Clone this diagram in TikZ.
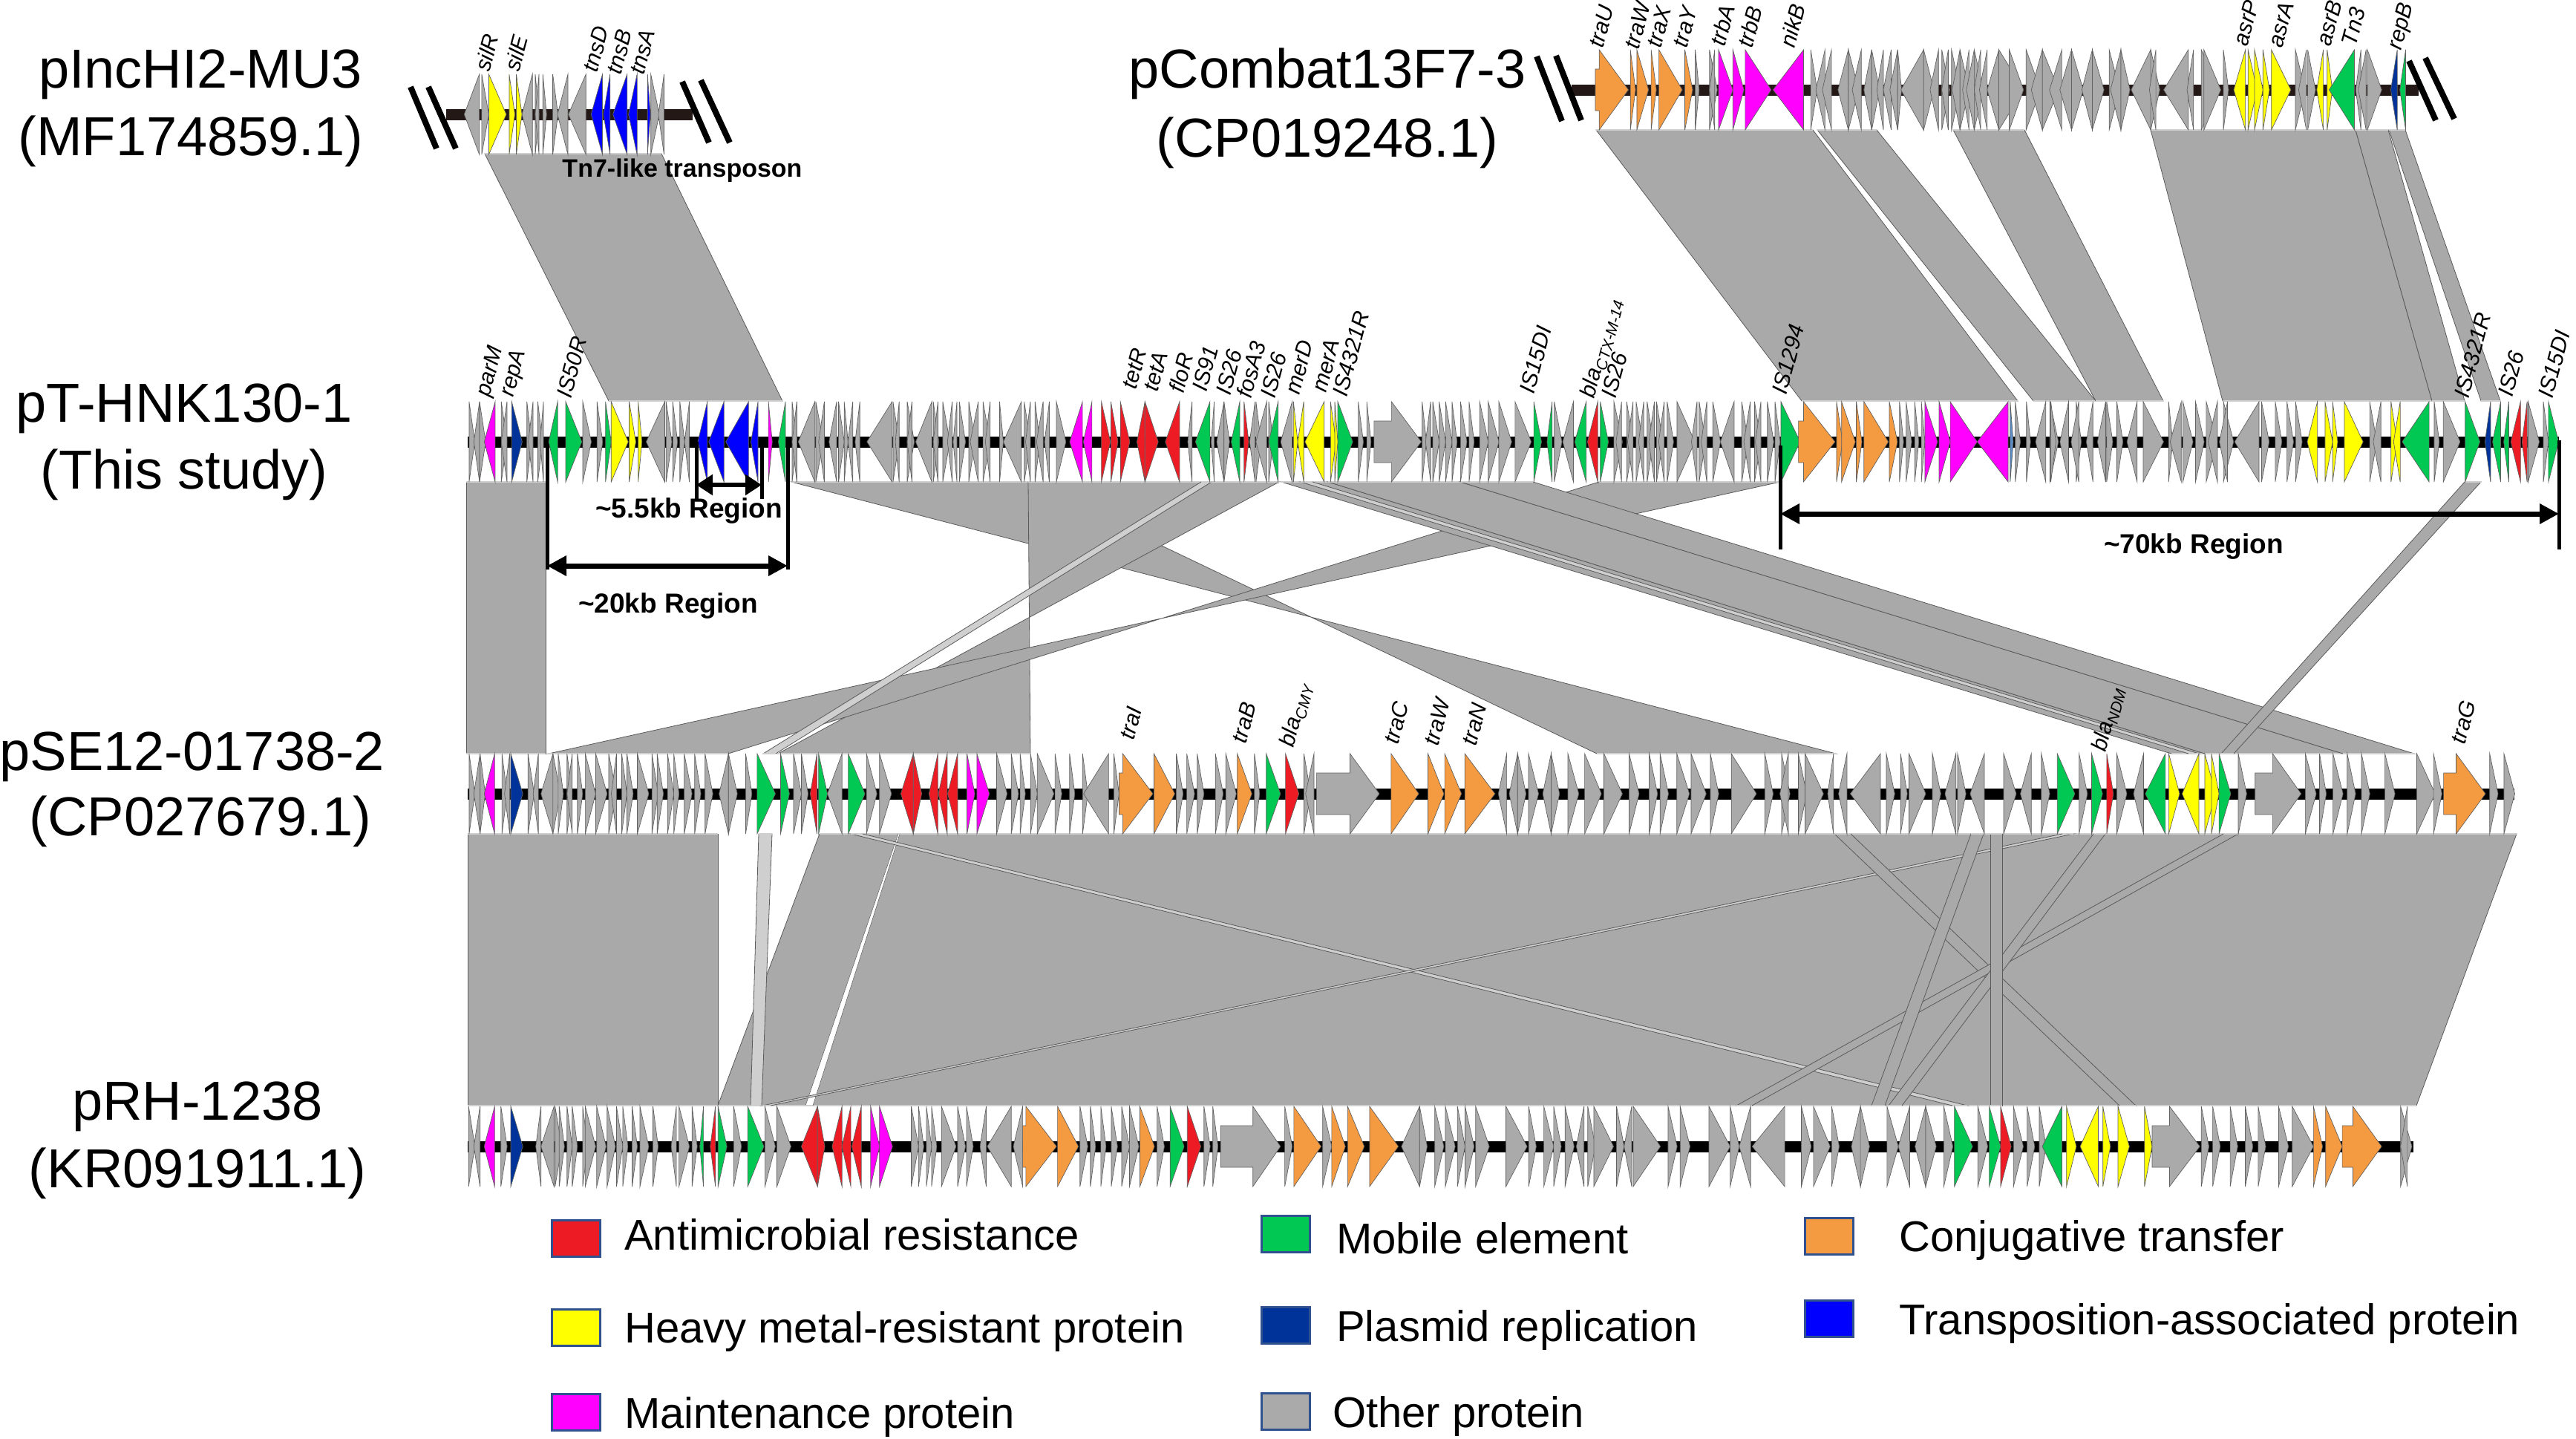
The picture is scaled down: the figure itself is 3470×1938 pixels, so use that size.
\documentclass[tikz,border=0pt]{standalone}
\usepackage{fontspec}
\setmainfont{Liberation Sans}
\usetikzlibrary{arrows.meta}
\definecolor{genegrey}{HTML}{AAAAAA}
\definecolor{genered}{HTML}{ED1C24}
\definecolor{geneyellow}{HTML}{FFFF00}
\definecolor{genemagenta}{HTML}{FF00FF}
\definecolor{genegreen}{HTML}{00C853}
\definecolor{geneorange}{HTML}{F49A40}
\definecolor{genenavy}{HTML}{003399}
\definecolor{geneblue}{HTML}{0000FF}
\definecolor{genesteel}{HTML}{5B8DC8}
\definecolor{ribbongrey}{HTML}{A9A9A9}
\definecolor{ribbonlight}{HTML}{CFCFCF}
\definecolor{seam}{HTML}{5A5A5A}
\definecolor{keyedge}{HTML}{2F528F}
\definecolor{darkbone}{HTML}{231815}
\tikzset{
  gene/.style={draw=black!62,line width=0.7pt,line join=miter},
  backbone/.style={line width=15pt,black},
  breakmark/.style={line width=8pt,black},
  ribbon/.style={fill=ribbongrey,draw=seam,line width=0.8pt},
  paleribbon/.style={fill=ribbonlight,draw=seam,line width=0.8pt},
  gapribbon/.style={fill=white,draw=seam,line width=0.5pt},
  genelabel/.style={font=\fontsize{30}{32}\selectfont\itshape,rotate=75,anchor=mid west,inner sep=0pt},
  tracklabel/.style={font=\fontsize{74}{80}\selectfont,inner sep=0pt},
  regionlabel/.style={font=\fontsize{37}{40}\selectfont\bfseries,inner sep=0pt},
  regionedge/.style={line width=5pt,black},
  regionspan/.style={line width=7pt,black,{Triangle[length=26pt,width=26pt]}-{Triangle[length=26pt,width=26pt]}},
  keybox/.style={draw=keyedge,line width=3.5pt,minimum width=65pt,minimum height=49pt,inner sep=0pt},
  keylabel/.style={font=\fontsize{58}{60}\selectfont,anchor=base west,inner sep=0pt}
}
\newcommand{\genes}[2]{\foreach \a/\b in {#2} {\filldraw[gene,fill=#1] (\a,-54) -- (\b,0) -- (\a,54) -- cycle;}}
\newcommand{\blockgene}[4]{\filldraw[gene,fill=#4] (#1,-28) -- (#2,-28) -- (#2,-54) -- (#3,0) -- (#2,54) -- (#2,28) -- (#1,28) -- cycle;}
\newcommand{\linkband}[7][ribbon]{\filldraw[#1] (#2,#6) -- (#3,#6) -- (#4,#7) -- (#5,#7) -- cycle;
  \draw[ribbonlight,line width=2.5pt] (#2,#6) -- (#3,#6) (#4,#7) -- (#5,#7);}
\begin{document}
\begin{tikzpicture}[x=1pt,y=-1pt]
\useasboundingbox (0,0) rectangle (3470,1938);
% links between pIncHI2 / pCombat and pT-HNK130
\linkband{653}{891}{1054}{820}{207}{540}
\linkband{2150}{2442}{2718}{2427}{175}{540}
\linkband{2448}{2528}{2823}{2739}{175}{540}
\linkband{2631}{2727}{2914}{2823}{175}{540}
\linkband{2897}{3173}{3276}{2994}{175}{540}
\linkband{3173}{3217}{3320}{3276}{175}{540}
\linkband{3218}{3240}{3368}{3342}{175}{540}
% links between pT-HNK130 and pSE12
\linkband{628}{735}{735}{628}{649}{1015}
\linkband{1066}{1385}{2151}{2473}{649}{1015}
\linkband{1385}{1723}{1048}{1388}{649}{1015}
\linkband{2154}{2398}{739}{981}{649}{1015}
\linkband[paleribbon]{1618}{1632}{1045}{1028}{649}{1015}
\linkband{1726}{1789}{2970}{2925}{649}{1015}
\linkband[paleribbon]{1752}{1768}{2962}{2948}{649}{1015}
\linkband{1789}{1967}{3156}{2970}{649}{1015}
\linkband{1967}{2065}{3252}{3156}{649}{1015}
\linkband{3320}{3342}{3009}{2992}{649}{1015}
% links between pSE12 and pRH
\linkband{630}{967}{967}{630}{1123}{1489}
\linkband{1104}{3390}{3255}{967}{1123}{1489}
\linkband[paleribbon]{1022}{1040}{1026}{1011}{1123}{1489}
\linkband[gapribbon]{1210}{1212}{1095}{1085}{1123}{1489}
\linkband[paleribbon]{1146}{1162}{2650}{2630}{1123}{1489}
\linkband[paleribbon]{2778}{2793}{1038}{1027}{1123}{1489}
\linkband{2471}{2493}{2877}{2855}{1123}{1489}
\linkband{2995}{3015}{2360}{2339}{1123}{1489}
\linkband{2820}{2836}{2562}{2544}{1123}{1489}
\linkband{2655}{2672}{2539}{2521}{1123}{1489}
\linkband{2681}{2697}{2697}{2681}{1123}{1489}
% backbones
\draw[backbone,draw=darkbone] (601,154) -- (933,154);
\draw[backbone,draw=darkbone] (2117,121) -- (3258,121);
\draw[backbone] (630,595) -- (3447,595);
\draw[backbone] (630,1069) -- (3387,1069);
\draw[backbone] (630,1544) -- (3251,1544);
\draw[breakmark] (553,117) -- (588,200);
\draw[breakmark] (577,117) -- (614,200);
\draw[breakmark] (919,110) -- (955,192);
\draw[breakmark] (944,108) -- (983,192);
\draw[breakmark] (2070,76) -- (2104,163);
\draw[breakmark] (2096,75) -- (2130,162);
\draw[breakmark] (3245,82) -- (3281,162);
\draw[breakmark] (3267,78) -- (3306,160);
% pIncHI2-MU3
\begin{scope}[shift={(550,154)},x=.638pt]
\genes{genegrey}{150/118,155/170,262/240,268/276,276/268,284/292,305/316,337/315,375/338,512/530,540/528}
\genes{geneyellow}{170/207,213/225,228/240}
\genes{geneblue}{410/386,426/412,462/432,483/465,505/511}
\end{scope}
% pCombat13F7-3
\begin{scope}[shift={(2100,121)},x=.874pt]
\genes{genegrey}{210/216,232/244,240/232,388/398,410/396,420/406,446/430,446/462,466/452,482/470,482/494,500/490,512/500,522/510,522/528,562/527,562/578,585/572,590/602,600/590,605/618,618/606,618/632,632/622,640/628,640/654,650/640,660/648,678/660,678/716,694/716,720/742,745/728,745/770,775/756,790/772,790/808,822/806,822/840,848/864,866/850,866/880,912/882,912/926,920/910,970/932,978/968,990/1018,994/1020,1024/1032,1135/1150,1152/1140,1154/1166,1236/1228,1244/1232,1246/1268}
\blockgene{56}{62}{107}{geneorange}
\genes{geneorange}{110/118,120/138,142/150,154/190,194/206}
\genes{genemagenta}{246/268,268/285,287/327,377/330}
\genes{geneyellow}{1058/1040,1062/1076,1072/1085,1085/1095,1098/1128,1178/1168,1184/1192}
\genes{genegreen}{1226/1187,1305/1296}
\genes{genenavy}{1292/1282}
\end{scope}
% pT-HNK130-1 left part
\begin{scope}[shift={(600,595)},x=.638pt]
\genes{genegrey}{50/62,72/60,72/85,118/130,130/118,172/182,185/175,195/205,207/200,290/308,320/332,463/424,466/478,480/490,495/505,515/505,732/742,742/732,780/745,782/798,800/788,826/810,830/842,842/850,860/850,875/865,943/890,945/958,958/950,975/990,985/975,1027/993,1030/1042,1040/1030,1050/1065,1070/1060,1080/1072,1085/1098,1105/1118,1125/1108,1135/1150,1150/1140,1170/1178,1216/1178,1222/1235,1235/1225,1245/1255,1262/1248,1275/1265,1290/1310}
\genes{genemagenta}{105/82,1345/1318,1365/1347,682/690}
\genes{genenavy}{140/162}
\genes{genegreen}{237/218,254/288,338/350,718/703}
\genes{geneyellow}{350/386,388/402,407/415}
\genes{geneblue}{553/533,588/556,640/592,660/645}
\genes{genered}{1385/1404,1405/1420,1425/1445,1477/1460,1477/1505,1550/1520}
\end{scope}
% pT-HNK130-1 middle part
\begin{scope}[shift={(1600,595)},x=.574pt]
\genes{genegrey}{10/0,62/55,85/68,85/98,158/145,160/172,185/160,190/200,245/218,400/412,420/430,550/560,570/558,575/590,590/605,605/620,620/632,640/655,660/672,685/705,705/730,730/760,768/806,860/878,905/880,1000/1020,1018/1005,1030/1045,1045/1032,1052/1068,1070/1058,1078/1092,1095/1082,1100/1115,1118/1105,1125/1140,1148/1190,1195/1182,1200/1215,1218/1205,1232/1250,1282/1250,1300/1315,1320/1305,1330/1345,1345/1332,1360/1375,1378/1390}
\genes{genegreen}{52/18,122/102,212/190,352/387,812/830,855/843,935/908,968/987,1392/1437}
\genes{genered}{132/143,962/938}
\genes{geneyellow}{248/258,272/258,320/275,335/348,345/352}
\blockgene{437}{478}{548}{genegrey}
\end{scope}
% pT-HNK130-1 right part
\begin{scope}[shift={(2400,595)},x=.684pt]
\genes{genegrey}{232/240,245/256,262/270,275/282,460/470,482/490,520/500,528/545,530/540,565/548,580/590,585/570,613/600,638/622,640/652,660/672,700/680,712/752,762/770,787/765,790/810,815/832,836/858,858/840,870/890,878/862,940/892,945/960,972/985,995/1008,1012/1025,1158/1172,1180/1165,1285/1295,1303/1336,1470/1492,1500/1510}
\blockgene{33}{43}{105}{geneorange}
\genes{geneorange}{108/120,118/145,147/158,162/210,212/228}
\genes{genemagenta}{282/307,310/332,332/385,446/385}
\genes{genesteel}{450/456}
\genes{geneyellow}{1055/1035,1070/1085,1085/1095,1108/1145,1200/1212,1218/1205}
\genes{genegreen}{1275/1222,1346/1375,1416/1400,1432/1422,1510/1530}
\genes{genenavy}{1396/1385}
\genes{genered}{1455/1436,1468/1458}
\end{scope}
% pSE12-01738-2 left part
\begin{scope}[shift={(620,1069)},x=.7015pt]
\genes{genegrey}{17/28,38/26,38/48,80/90,95/85,130/142,150/140,178/155,178/192,188/198,205/215,215/205,225/235,240/260,260/282,285/300,300/290,310/320,320/332,340/362,368/380,378/390,398/410,410/420,430/445,450/462,470/485,515/497,515/532,548/560,640/655,655/668,733/705,780/800,805/828,1030/1050,1058/1072,1075/1085,1095/1108,1108/1140,1142/1155,1170/1180,1195/1205,1245/1197,1255/1265,1375/1388,1395/1410,1415/1428,1450/1465,1470/1490,1525/1535}
\genes{genemagenta}{66/46,973/988,992/1016}
\genes{genenavy}{97/120}
\genes{genegreen}{570/605,615/632,688/705,745/777}
\genes{genered}{685/672,870/846,870/886,917/900,935/918,955/936}
\blockgene{1265}{1272}{1330}{geneorange}
\genes{geneorange}{1332/1372,1492/1520}
\end{scope}
% pSE12-01738-2 right part
\begin{scope}[shift={(1700,1069)},x=1.1288pt]
\genes{genegrey}{50/58,62/52,292/282,305/295,305/315,318/330,345/355,345/335,365/378,385/405,408/430,438/450,462/472,475/485,495/510,512/530,535/545,560/590,600/610,620/630,628/618,640/650,648/670,682/675,698/688,738/702,745/755,762/770,772/792,800/810,828/815,830/840,862/845,885/900,918/905,930/940,975/985,1020/1032,1052/1040,1165/1175,1245/1258,1262/1270,1278/1290,1295/1305,1312/1322,1340/1352,1378/1400,1398/1408,1465/1475,1482/1495}
\genes{genegreen}{5/22,949/970,990/1003,1078/1054,1142/1156}
\genes{genered}{28/44,1008/1016}
\blockgene{65}{105}{140}{genegrey}
\blockgene{1185}{1206}{1240}{genegrey}
\genes{geneorange}{154/187,198/217,218/238,242/278}
\genes{geneyellow}{1082/1095,1118/1098,1125/1138,1133/1142}
\blockgene{1410}{1425}{1460}{geneorange}
\end{scope}
% pRH-1238 left part
\begin{scope}[shift={(620,1544)},x=.7015pt]
\genes{genegrey}{16/28,38/26,78/90,155/145,180/155,182/195,190/200,205/215,215/225,235/245,240/260,262/280,282/298,300/312,312/322,330/340,345/362,370/380,415/405,420/440,445/455,525/540,585/605,608/635,866/880,880/890,895/905,905/915,924/952,955/970,972/985,1010/998,1058/1012,1080/1062,1190/1205,1210/1220,1230/1240,1250/1262,1270/1285,1285/1303,1338/1352,1428/1440,1445/1455}
\genes{genemagenta}{66/46,788/805,805/830}
\genes{genenavy}{97/120}
\genes{genegreen}{467/460,495/512,552/583,1363/1390}
\genes{genered}{490/480,686/655,686/700,733/714,750/733,770/752,1396/1422}
\blockgene{1080}{1086}{1145}{geneorange}
\genes{geneorange}{1147/1187,1305/1333}
\blockgene{1460}{1522}{1575}{genegrey}
\end{scope}
% pRH-1238 right part
\begin{scope}[shift={(1700,1544)},x=1.0204pt]
\genes{genegrey}{30/40,80/92,208/184,208/218,228/240,242/255,258/268,268/280,282/300,322/350,352/362,372/385,385/395,400/412,425/415,430/440,438/464,468/478,488/478,490/526,536/548,552/565,590/618,618/630,645/630,690/647,712/725,728/750,752/762,790/778,790/802,825/840,855/840,876/862,876/890,900/912,945/958,992/1005,1010/1020,1026/1035,1240/1250,1255/1265,1278/1288,1298/1308,1315/1325,1342/1355,1360/1388,1503/1518,1512/1503}
\genes{geneorange}{42/78,92/110,113/135,142/180,1388/1400,1404/1426}
\genes{genegreen}{914/938,960/975,1056/1030}
\genes{genered}{975/989}
\genes{geneyellow}{1062/1075,1104/1080,1110/1120,1130/1145,1165/1175}
\blockgene{1175}{1198}{1238}{genegrey}
\blockgene{1426}{1440}{1478}{geneorange}
\end{scope}
% gene names
\node[genelabel] (silR) at (657,97) {silR};
\node[genelabel] (silE) at (697,97) {silE};
\node[genelabel] (tnsD) at (802,98) {tnsD};
\node[genelabel] (tnsB) at (834,101) {tnsB};
\node[genelabel] (tnsA) at (865,101) {tnsA};
\node[genelabel] (traU) at (2157,65) {traU};
\node[genelabel] (traWe) at (2205,67) {traW};
\node[genelabel] (traX) at (2235,65) {traX};
\node[genelabel] (traY) at (2270,65) {traY};
\node[genelabel] (trbA) at (2321,63) {trbA};
\node[genelabel] (trbB) at (2358,65) {trbB};
\node[genelabel] (nikB) at (2415,65) {nikB};
\node[genelabel] (asrP) at (3025,63) {asrP};
\node[genelabel] (asrA) at (3072,65) {asrA};
\node[genelabel] (asrB) at (3137,63) {asrB};
\node[genelabel] (TnThree) at (3171,63) {Tn3};
\node[genelabel] (repB) at (3232,68) {repB};
\node[genelabel] (parM) at (657,535) {parM};
\node[genelabel] (repA) at (689,535) {repA};
\node[genelabel] (ISfifty) at (767,537) {IS50R};
\node[genelabel] (tetR) at (1528,525) {tetR};
\node[genelabel] (tetA) at (1557,528) {tetA};
\node[genelabel] (floR) at (1592,530) {floR};
\node[genelabel] (ISninety) at (1623,528) {IS91};
\node[genelabel] (ISa) at (1655,533) {IS26};
\node[genelabel] (fosA) at (1683,537) {fosA3};
\node[genelabel] (ISb) at (1715,537) {IS26};
\node[genelabel] (merD) at (1748,532) {merD};
\node[genelabel] (merA) at (1784,529) {merA};
\node[genelabel] (ISfoura) at (1812,535) {IS4321R};
\node[genelabel] (ISfifteena) at (2064,531) {IS15DI};
\node[genelabel] (blaCTX) at (2145,537) {bla\textsubscript{CTX-M-14}};
\node[genelabel] (ISc) at (2174,537) {IS26};
\node[genelabel] (IStwelve) at (2404,532) {IS1294};
\node[genelabel] (ISfourb) at (3323,537) {IS4321R};
\node[genelabel] (ISd) at (3382,535) {IS26};
\node[genelabel] (ISfifteenb) at (3436,537) {IS15DI};
\node[genelabel] (traI) at (1525,997) {traI};
\node[genelabel] (traB) at (1676,1002) {traB};
\node[genelabel] (blaCMY) at (1740,1007) {bla\textsubscript{CMY}};
\node[genelabel] (traC) at (1881,1003) {traC};
\node[genelabel] (traWs) at (1935,1005) {traW};
\node[genelabel] (traN) at (1986,1005) {traN};
\node[genelabel] (blaNDM) at (2834,1013) {bla\textsubscript{NDM}};
\node[genelabel] (traG) at (3318,1003) {traG};
% plasmid names
\node[tracklabel] (incName) at (270,100) {pIncHI2-MU3};
\node[tracklabel] (incAcc) at (257,190) {(MF174859.1)};
\node[tracklabel] (combatName) at (1788,99) {pCombat13F7-3};
\node[tracklabel] (combatAcc) at (1788,192) {(CP019248.1)};
\node[tracklabel] (hnkName) at (248,550) {pT-HNK130-1};
\node[tracklabel] (hnkAcc) at (248,639) {(This study)};
\node[tracklabel] (seName) at (259,1019) {pSE12-01738-2};
\node[tracklabel] (seAcc) at (270,1106) {(CP027679.1)};
\node[tracklabel] (rhName) at (266,1490) {pRH-1238};
\node[tracklabel] (rhAcc) at (266,1580) {(KR091911.1)};
% regions
\node[regionlabel,font=\fontsize{34}{36}\selectfont\bfseries] (tnLabel) at (919,230) {Tn7-like transposon};
\coordinate (smallTopL) at (938,595);
\coordinate (smallBotL) at (938,672);
\coordinate (smallTopR) at (1026,595);
\coordinate (smallBotR) at (1026,672);
\coordinate (smallArrL) at (938,653);
\coordinate (smallArrR) at (1026,653);
\draw[regionedge] (smallTopL) -- (smallBotL);
\draw[regionedge] (smallTopR) -- (smallBotR);
\draw[line width=6pt,{Triangle[length=22pt,width=27pt]}-{Triangle[length=22pt,width=27pt]}] (smallArrL) -- (smallArrR);
\node[regionlabel] (smallLabel) at (928,688) {\textasciitilde 5.5kb Region};
\coordinate (midTopL) at (737,598);
\coordinate (midBotL) at (737,767);
\coordinate (midTopR) at (1061,597);
\coordinate (midBotR) at (1061,767);
\coordinate (midArrL) at (737,762);
\coordinate (midArrR) at (1061,762);
\draw[regionedge] (midTopL) -- (midBotL);
\draw[regionedge] (midTopR) -- (midBotR);
\draw[regionspan] (midArrL) -- (midArrR);
\node[regionlabel] (midLabel) at (900,816) {\textasciitilde 20kb Region};
\coordinate (bigTopL) at (2398,600);
\coordinate (bigBotL) at (2398,740);
\coordinate (bigTopR) at (3447,593);
\coordinate (bigBotR) at (3447,740);
\coordinate (bigArrL) at (2398,692);
\coordinate (bigArrR) at (3447,692);
\draw[regionedge] (bigTopL) -- (bigBotL);
\draw[regionedge] (bigTopR) -- (bigBotR);
\draw[regionspan] (bigArrL) -- (bigArrR);
\node[regionlabel] (bigLabel) at (2955,736) {\textasciitilde 70kb Region};
% legend
\node[keybox,fill=genered] (keyAmr) at (776,1668) {};
\node[keybox,fill=geneyellow] (keyMetal) at (776,1788) {};
\node[keybox,fill=genemagenta] (keyMaint) at (776,1902) {};
\node[keybox,fill=genegreen] (keyMobile) at (1732,1662) {};
\node[keybox,fill=genenavy] (keyRep) at (1732,1785) {};
\node[keybox,fill=genegrey] (keyOther) at (1732,1901) {};
\node[keybox,fill=geneorange] (keyConj) at (2464,1665) {};
\node[keybox,fill=geneblue] (keyTrans) at (2464,1776) {};
\node[keylabel] (txtAmr) at (841,1683) {Antimicrobial resistance};
\node[keylabel] (txtMetal) at (841,1808) {Heavy metal-resistant protein};
\node[keylabel] (txtMaint) at (841,1923) {Maintenance protein};
\node[keylabel] (txtMobile) at (1800,1688) {Mobile element};
\node[keylabel] (txtRep) at (1800,1806) {Plasmid replication};
\node[keylabel] (txtOther) at (1795,1922) {Other protein};
\node[keylabel] (txtConj) at (2558,1685) {Conjugative transfer};
\node[keylabel] (txtTrans) at (2558,1797) {Transposition-associated protein};
\end{tikzpicture}
\end{document}
